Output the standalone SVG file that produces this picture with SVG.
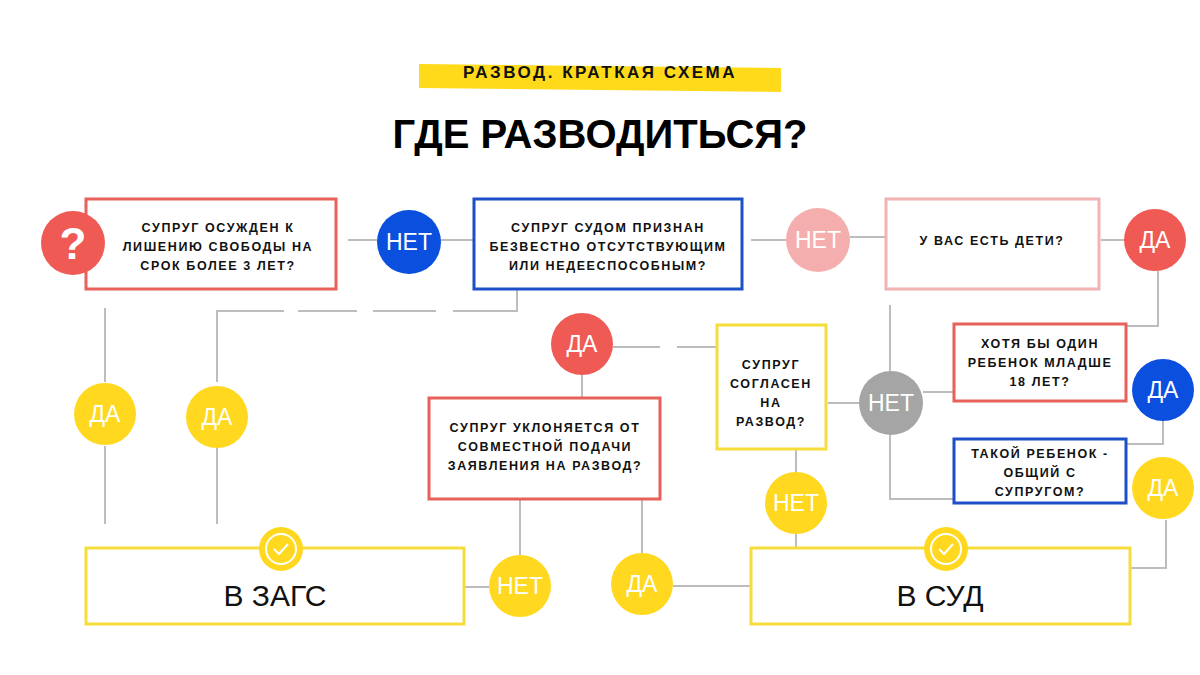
<svg xmlns="http://www.w3.org/2000/svg" width="1200" height="675" viewBox="0 0 1200 675">
<style>
.b{fill:#fff;stroke-width:3}
.t{font-family:"Liberation Sans",sans-serif;font-size:12.5px;font-weight:bold;letter-spacing:1.6px;fill:#111;text-anchor:middle}
.c{font-family:"Liberation Sans",sans-serif;font-size:23px;fill:#fff;text-anchor:middle}
.big{font-family:"Liberation Sans",sans-serif;font-size:30px;fill:#111;text-anchor:middle}
#conn line,#conn polyline{stroke:#bdbdbd;stroke-width:2;fill:none}
</style>
<rect width="1200" height="675" fill="#fff"/>
<polygon points="419,64 781,68 781,92 419,88" fill="#FFDA1A"/>
<text x="600" y="78" class="t" style="font-size:17px;letter-spacing:2.5px">РАЗВОД. КРАТКАЯ СХЕМА</text>
<text x="600" y="148" style="font-family:'Liberation Sans',sans-serif;font-size:40px;font-weight:bold;fill:#000;text-anchor:middle">ГДЕ РАЗВОДИТЬСЯ?</text>
<g id="conn">
<line x1="348" y1="240" x2="377" y2="240"/><line x1="441" y1="240" x2="474" y2="240"/>
<line x1="751" y1="240" x2="786" y2="240"/><line x1="850" y1="237" x2="886" y2="237"/>
<line x1="1101" y1="240" x2="1124" y2="240"/>
<polyline points="1158,271 1158,326 1126,326"/>
<line x1="105" y1="308" x2="105" y2="382"/><line x1="105" y1="446" x2="105" y2="524"/>
<line x1="217" y1="446" x2="217" y2="524"/>
<polyline points="217,382 217,311 284,311"/><line x1="298" y1="311" x2="357" y2="311"/><line x1="373" y1="311" x2="436" y2="311"/>
<polyline points="453,311 517,311 517,290"/>
<line x1="613" y1="347" x2="660" y2="347"/><line x1="677" y1="347" x2="717" y2="347"/>
<line x1="582" y1="375" x2="582" y2="398"/>
<line x1="890" y1="305" x2="890" y2="371"/><line x1="828" y1="403" x2="859" y2="403"/><line x1="923" y1="392" x2="954" y2="392"/>
<polyline points="890,435 890,499 954,499"/>
<polyline points="1163,421 1163,444 1126,444"/>
<polyline points="1166,520 1166,568 1130,568"/>
<line x1="796" y1="449" x2="796" y2="472"/><line x1="796" y1="534" x2="796" y2="548"/>
<line x1="520" y1="499" x2="520" y2="555"/><line x1="642" y1="499" x2="642" y2="553"/>
<line x1="464" y1="587" x2="489" y2="587"/><line x1="673" y1="586" x2="751" y2="586"/>
</g>
<g id="q1"><rect x="86" y="199" width="250" height="90" class="b" stroke="#E8605A"/>
<text class="t"><tspan x="218" y="232">СУПРУГ ОСУЖДЕН К</tspan><tspan x="218" y="251">ЛИШЕНИЮ СВОБОДЫ НА</tspan><tspan x="218" y="270">СРОК БОЛЕЕ 3 ЛЕТ?</tspan></text></g>
<g id="qm"><circle cx="73" cy="243" r="32" fill="#F05A55"/><text x="73" y="259" class="c" style="font-size:44px;font-weight:bold">?</text></g>
<g id="q2"><rect x="474" y="199" width="268" height="90" class="b" stroke="#1E4FC9"/>
<text class="t"><tspan x="608" y="232">СУПРУГ СУДОМ ПРИЗНАН</tspan><tspan x="608" y="251">БЕЗВЕСТНО ОТСУТСТВУЮЩИМ</tspan><tspan x="608" y="270">ИЛИ НЕДЕЕСПОСОБНЫМ?</tspan></text></g>
<g id="q3"><rect x="886" y="199" width="213" height="90" class="b" stroke="#F2B3B3"/>
<text x="992" y="245" class="t">У ВАС ЕСТЬ ДЕТИ?</text></g>
<g id="q4"><rect x="954" y="324" width="172" height="77" class="b" stroke="#E8605A"/>
<text class="t"><tspan x="1040" y="348">ХОТЯ БЫ ОДИН</tspan><tspan x="1040" y="367">РЕБЕНОК МЛАДШЕ</tspan><tspan x="1040" y="386">18 ЛЕТ?</tspan></text></g>
<g id="q5"><rect x="954" y="439" width="172" height="64" class="b" stroke="#1E4FC9"/>
<text class="t"><tspan x="1040" y="458">ТАКОЙ РЕБЕНОК -</tspan><tspan x="1040" y="477">ОБЩИЙ С</tspan><tspan x="1040" y="496">СУПРУГОМ?</tspan></text></g>
<g id="q6"><rect x="717" y="325" width="109" height="124" class="b" stroke="#F5DD3C"/>
<text class="t"><tspan x="771" y="369">СУПРУГ</tspan><tspan x="771" y="388">СОГЛАСЕН</tspan><tspan x="771" y="407">НА</tspan><tspan x="771" y="426">РАЗВОД?</tspan></text></g>
<g id="q7"><rect x="429" y="398" width="231" height="101" class="b" stroke="#E8605A"/>
<text class="t"><tspan x="545" y="432">СУПРУГ УКЛОНЯЕТСЯ ОТ</tspan><tspan x="545" y="451">СОВМЕСТНОЙ ПОДАЧИ</tspan><tspan x="545" y="470">ЗАЯВЛЕНИЯ НА РАЗВОД?</tspan></text></g>
<g id="zags"><rect x="86" y="548" width="378" height="76" class="b" stroke="#F5DD3C"/><text x="275" y="606" class="big">В ЗАГС</text>
<circle cx="281" cy="549" r="22" fill="#FFD81F"/><circle cx="281" cy="549" r="15" fill="none" stroke="#fff" stroke-width="2"/><polyline points="274,549 279,554 288,544" fill="none" stroke="#fff" stroke-width="2"/></g>
<g id="sud"><rect x="751" y="548" width="379" height="76" class="b" stroke="#F5DD3C"/><text x="940" y="606" class="big">В СУД</text>
<circle cx="946" cy="549" r="22" fill="#FFD81F"/><circle cx="946" cy="549" r="15" fill="none" stroke="#fff" stroke-width="2"/><polyline points="939,549 944,554 953,544" fill="none" stroke="#fff" stroke-width="2"/></g>
<g id="c1"><circle cx="409" cy="242" r="32" fill="#0B4FDE"/><text x="409" y="250" class="c">НЕТ</text></g>
<g id="c2"><circle cx="818" cy="240" r="32" fill="#F4AEAE"/><text x="818" y="248" class="c">НЕТ</text></g>
<g id="c3"><circle cx="1155" cy="240" r="31" fill="#F05A55"/><text x="1155" y="248" class="c">ДА</text></g>
<g id="c4"><circle cx="582" cy="344" r="31" fill="#F05A55"/><text x="582" y="352" class="c">ДА</text></g>
<g id="c5"><circle cx="891" cy="403" r="32" fill="#A5A5A5"/><text x="891" y="411" class="c">НЕТ</text></g>
<g id="c6"><circle cx="1163" cy="390" r="31" fill="#0B4FDE"/><text x="1163" y="398" class="c">ДА</text></g>
<g id="c7"><circle cx="1163" cy="488" r="31" fill="#FFD81F"/><text x="1163" y="496" class="c">ДА</text></g>
<g id="c8"><circle cx="105" cy="414" r="31" fill="#FFD81F"/><text x="105" y="422" class="c">ДА</text></g>
<g id="c9"><circle cx="217" cy="417" r="31" fill="#FFD81F"/><text x="217" y="425" class="c">ДА</text></g>
<g id="c10"><circle cx="796" cy="503" r="31" fill="#FFD81F"/><text x="796" y="511" class="c">НЕТ</text></g>
<g id="c11"><circle cx="520" cy="586" r="31" fill="#FFD81F"/><text x="520" y="594" class="c">НЕТ</text></g>
<g id="c12"><circle cx="642" cy="584" r="31" fill="#FFD81F"/><text x="642" y="592" class="c">ДА</text></g>
</svg>
